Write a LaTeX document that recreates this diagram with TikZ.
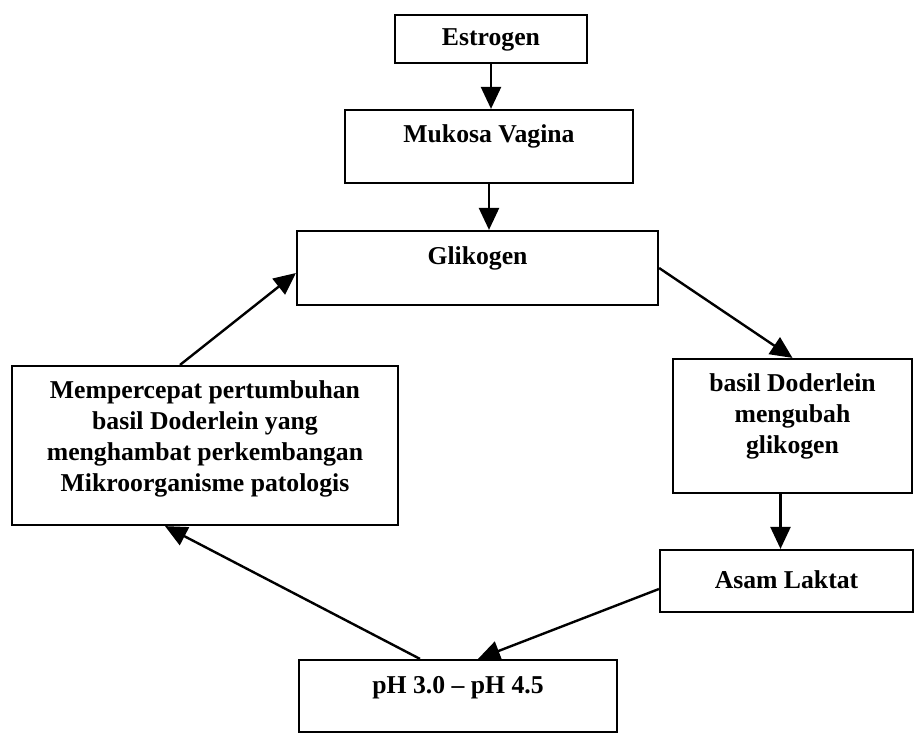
\documentclass[tikz,border=0pt]{standalone}
\usepackage{fontspec}
\setmainfont{Liberation Serif}
\usetikzlibrary{arrows.meta}
\begin{document}
\begin{tikzpicture}[x=1pt,y=-1pt,
  box/.style={draw, line width=2.2pt, rectangle, inner sep=0pt},
  lbl/.style={font=\fontsize{25.7}{31}\selectfont\bfseries, align=center, inner sep=0pt},
  arr/.style={line width=2.4pt, -{Triangle[length=22pt,width=20pt]}}]
\useasboundingbox (0,0) rectangle (915,734);
\fill[white] (0,0) rectangle (915,734);

% boxes
\node[box, minimum width=192pt, minimum height=48pt] (estrogen) at (491,39) {};
\node[box, minimum width=288pt, minimum height=73pt] (mukosa) at (489,146.5) {};
\node[box, minimum width=361pt, minimum height=74pt] (glikogen) at (477.5,268) {};
\node[box, minimum width=386pt, minimum height=159pt] (left) at (205,445.5) {};
\node[box, minimum width=239pt, minimum height=134pt] (right) at (792.5,426) {};
\node[box, minimum width=253pt, minimum height=62pt] (asam) at (786.5,581) {};
\node[box, minimum width=318pt, minimum height=72pt] (ph) at (458,696) {};

% texts
\node[lbl] (estrogen-t) at (491,40) {Estrogen};
\node[lbl] (mukosa-t) at (489,136) {Mukosa Vagina};
\node[lbl] (glikogen-t) at (477.5,258) {Glikogen};
\node[lbl] (left-t) at (205,438.5) {Mempercepat pertumbuhan\\basil Doderlein yang\\menghambat perkembangan\\Mikroorganisme patologis};
\node[lbl] (right-t) at (792.5,416) {basil Doderlein\\mengubah\\glikogen};
\node[lbl] (asam-t) at (786.5,580) {Asam Laktat};
\node[lbl] (ph-t) at (458,688) {pH 3.0 -- pH 4.5};

% connectors
\draw[arr] (estrogen.south) -- (estrogen.south |- mukosa.north);
\draw[arr] (mukosa.south) -- (mukosa.south |- glikogen.north);
\draw[arr] (glikogen.east) -- (right.north);
\draw[arr] ([xshift=-12pt]right.south) -- ([xshift=-12pt]right.south |- asam.north);
\draw[arr] ([yshift=-8pt]asam.west) -- ([xshift=20pt]ph.north);
\draw[arr] ([xshift=-38pt]ph.north) -- ([xshift=-40pt]left.south);
\draw[arr] ([xshift=-25pt]left.north) -- ([yshift=-5pt]glikogen.west);
\end{tikzpicture}
\end{document}
